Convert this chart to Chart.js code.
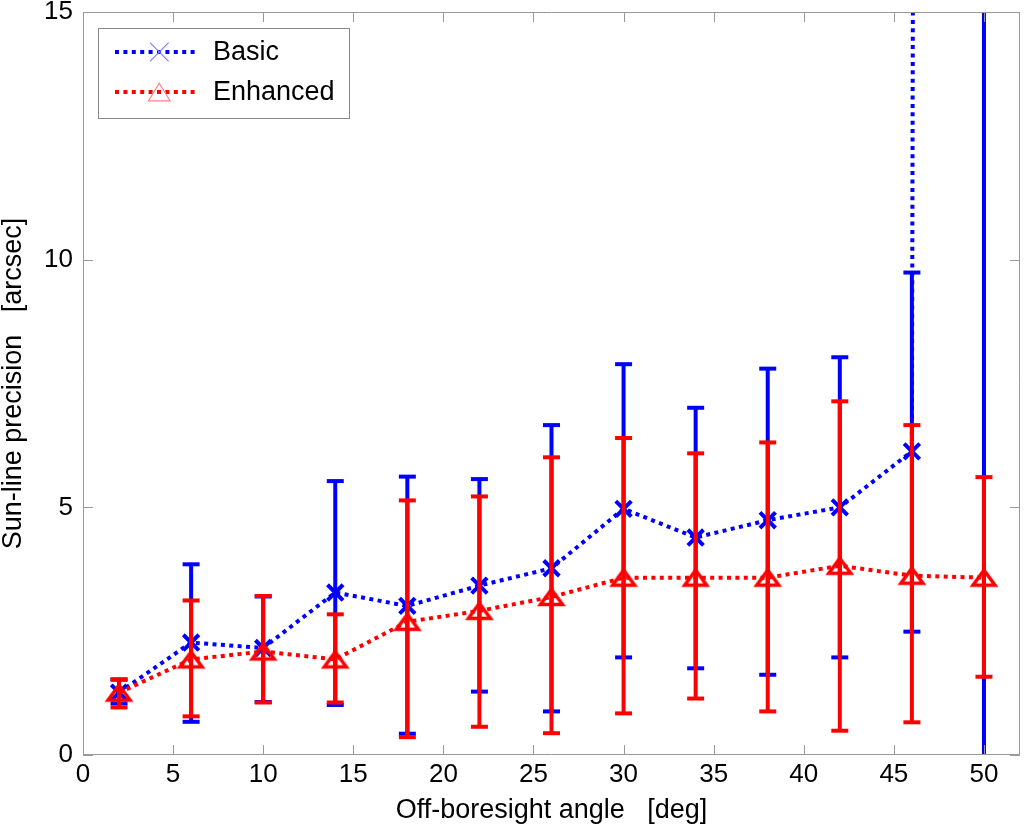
<!DOCTYPE html>
<html>
<head>
<meta charset="utf-8">
<title>Sun-line precision</title>
<script src="https://cdn.jsdelivr.net/npm/chart.js@4.4.0/dist/chart.umd.min.js"></script>
<style>
  html, body { margin: 0; padding: 0; background: #fff; overflow: hidden; }
  #wrap { width: 1024px; height: 829px; position: relative; }
</style>
</head>
<body>
<div id="wrap"><canvas id="canvas"></canvas></div>
<script>
// off-boresight angle [deg]
const angles = [2, 6, 10, 14, 18, 22, 26, 30, 34, 38, 42, 46, 50];

// Basic: mean and error bar ends [arcsec] (value at 50 deg is far off the top)
const basicMean = [1.26, 2.27, 2.16, 3.28, 3.01, 3.42, 3.77, 4.97, 4.39, 4.74, 5.00, 6.13, 1000];
const basicLow  = [1.04, 0.67, 1.07, 1.01, 0.43, 1.28, 0.88, 1.97, 1.75, 1.62, 1.97, 2.49, -100];
const basicHigh = [1.52, 3.85, 3.20, 5.53, 5.62, 5.57, 6.66, 7.89, 7.01, 7.80, 8.03, 9.74, 2100];

// Enhanced
const enhancedMean = [1.26, 1.93, 2.09, 1.93, 2.69, 2.91, 3.19, 3.58, 3.58, 3.58, 3.82, 3.62, 3.58];
const enhancedLow  = [0.96, 0.78, 1.06, 1.06, 0.36, 0.57, 0.44, 0.84, 1.14, 0.88, 0.49, 0.66, 1.58];
const enhancedHigh = [1.53, 3.12, 3.21, 2.84, 5.14, 5.22, 6.01, 6.40, 6.09, 6.31, 7.14, 6.66, 5.61];

const xTicks = [0, 5, 10, 15, 20, 25, 30, 35, 40, 45, 50];
const yTicks = [0, 5, 10, 15];
const legendNames = ['Basic', 'Enhanced'];

const BLUE = '#0000ff';
const RED = '#ff0000';
const FONT = '"Liberation Sans", Arial, Helvetica, sans-serif';
const DOTS = [4, 4.4];

// open triangle marker, matlab style
function triangleMarker() {
    const c = document.createElement('canvas');
    c.width = 34; c.height = 26;
    const g = c.getContext('2d');
    g.strokeStyle = RED;
    g.lineWidth = 3.5;
    g.lineJoin = 'miter';
    g.miterLimit = 3;
    g.beginPath();
    g.moveTo(17, 5.5);
    g.lineTo(28, 20.5);
    g.lineTo(6, 20.5);
    g.closePath();
    g.stroke();
    return c;
}

function errorBarPoints(low, high) {
    const pts = [];
    angles.forEach((a, i) => {
        pts.push({x: a, y: low[i]}, {x: a, y: high[i]}, {x: a, y: null});
    });
    return pts;
}

function meanPoints(mean) {
    return angles.map((a, i) => ({x: a, y: mean[i]}));
}

const triMarker = triangleMarker();

// axes box with inward ticks on all four sides
const framePlugin = {
    id: 'frame',
    afterDraw(chart) {
        const {ctx, chartArea: a, scales: {x, y}} = chart;
        ctx.save();
        ctx.strokeStyle = '#999';
        ctx.lineWidth = 1;
        ctx.beginPath();
        ctx.rect(a.left + 0.5, a.top + 0.5, a.width - 1, a.height - 1);
        x.ticks.forEach(t => {
            const px = Math.round(x.getPixelForValue(t.value)) + 0.5;
            ctx.moveTo(px, a.bottom); ctx.lineTo(px, a.bottom - 10);
            ctx.moveTo(px, a.top); ctx.lineTo(px, a.top + 10);
        });
        y.ticks.forEach(t => {
            const py = Math.round(y.getPixelForValue(t.value)) + 0.5;
            ctx.moveTo(a.left, py); ctx.lineTo(a.left + 10, py);
            ctx.moveTo(a.right, py); ctx.lineTo(a.right - 10, py);
        });
        ctx.stroke();
        ctx.restore();
    }
};

// matlab-like legend box in the upper left corner of the axes
const legendPlugin = {
    id: 'boxLegend',
    afterDraw(chart) {
        const {ctx, chartArea: a} = chart;
        const left = a.left + 15, top = a.top + 16;
        const rowGap = 40;
        ctx.save();
        ctx.font = '27px ' + FONT;
        const textX = left + 115;
        const textW = Math.max(...legendNames.map(n => ctx.measureText(n).width));
        ctx.strokeStyle = '#888';
        ctx.lineWidth = 1;
        ctx.strokeRect(Math.round(left) + 0.5, Math.round(top) + 0.5,
                       Math.round(textX + textW + 14 - left), 90);

        legendNames.forEach((name, i) => {
            const cy = top + 24 + i * rowGap;
            const color = i === 0 ? BLUE : RED;
            ctx.strokeStyle = color;
            ctx.lineWidth = 4;
            ctx.setLineDash(DOTS);
            ctx.beginPath();
            ctx.moveTo(left + 17, cy);
            ctx.lineTo(left + 100, cy);
            ctx.stroke();
            ctx.setLineDash([]);

            const mx = left + 61.3;
            ctx.lineWidth = 1.2;
            ctx.beginPath();
            if (i === 0) {
                ctx.strokeStyle = '#8080ff';
                ctx.moveTo(mx - 9.3, cy - 9.3); ctx.lineTo(mx + 9.3, cy + 9.3);
                ctx.moveTo(mx + 9.3, cy - 9.3); ctx.lineTo(mx - 9.3, cy + 9.3);
            } else {
                ctx.strokeStyle = '#ff8080';
                ctx.moveTo(mx, cy - 8.8);
                ctx.lineTo(mx + 10.8, cy + 8.8);
                ctx.lineTo(mx - 10.8, cy + 8.8);
                ctx.closePath();
            }
            ctx.stroke();

            ctx.fillStyle = '#000';
            ctx.textAlign = 'left';
            ctx.textBaseline = 'middle';
            ctx.fillText(name, textX, cy + 0.5);
        });
        ctx.restore();
    }
};

const ctx = document.getElementById('canvas').getContext('2d');
const chart = new Chart(ctx, {
    type: 'line',
    data: {
        datasets: [{
            label: 'Basic error',
            data: errorBarPoints(basicLow, basicHigh),
            borderColor: BLUE,
            borderWidth: 4,
            pointStyle: 'line',
            pointRadius: 8.5,
            pointBorderWidth: 4,
            pointBorderColor: BLUE,
            spanGaps: false,
            clip: 0,
            order: 4
        }, {
            label: 'Basic',
            data: meanPoints(basicMean),
            borderColor: BLUE,
            borderWidth: 4,
            borderDash: DOTS,
            pointStyle: 'crossRot',
            pointRadius: 11,
            pointBorderWidth: 4,
            pointBorderColor: BLUE,
            pointBackgroundColor: BLUE,
            clip: 0,
            order: 3
        }, {
            label: 'Enhanced error',
            data: errorBarPoints(enhancedLow, enhancedHigh),
            borderColor: RED,
            borderWidth: 4,
            pointStyle: 'line',
            pointRadius: 8.5,
            pointBorderWidth: 4,
            pointBorderColor: RED,
            spanGaps: false,
            clip: 0,
            order: 2
        }, {
            label: 'Enhanced',
            data: meanPoints(enhancedMean),
            borderColor: RED,
            borderWidth: 4,
            borderDash: DOTS,
            pointStyle: triMarker,
            pointRadius: 10,
            clip: 0,
            order: 1
        }]
    },
    options: {
        responsive: true,
        maintainAspectRatio: false,
        animation: false,
        events: [],
        layout: {autoPadding: false, padding: {top: 12, right: 4, left: 0, bottom: 0}},
        plugins: {
            tooltip: {enabled: false},
            legend: {display: false}
        },
        scales: {
            x: {
                type: 'linear',
                min: 0,
                max: 52,
                offset: false,
                grid: {display: false, drawTicks: false},
                border: {display: false},
                afterBuildTicks: s => { s.ticks = xTicks.map(v => ({value: v})); },
                ticks: {color: '#000', font: {family: FONT, size: 26}, padding: 4, maxRotation: 0, autoSkip: false},
                title: {display: true, text: 'Off-boresight angle   [deg]', color: '#000',
                        font: {family: FONT, size: 27, lineHeight: 1}, padding: {top: 0, bottom: 5}},
                afterFit: s => { s.height = 74; s.paddingLeft = 0; s.paddingRight = 0; }
            },
            y: {
                type: 'linear',
                min: 0,
                max: 15,
                grid: {display: false, drawTicks: false},
                border: {display: false},
                afterBuildTicks: s => { s.ticks = yTicks.map(v => ({value: v})); },
                ticks: {color: '#000', font: {family: FONT, size: 26}, padding: 10},
                title: {display: true, text: 'Sun-line precision   [arcsec]', color: '#000',
                        font: {family: FONT, size: 27, lineHeight: 1}, padding: {top: 0, bottom: 0}},
                afterFit: s => { s.width = 83; s.paddingTop = 0; s.paddingBottom = 0; }
            }
        }
    },
    plugins: [framePlugin, legendPlugin]
});
</script>
</body>
</html>
